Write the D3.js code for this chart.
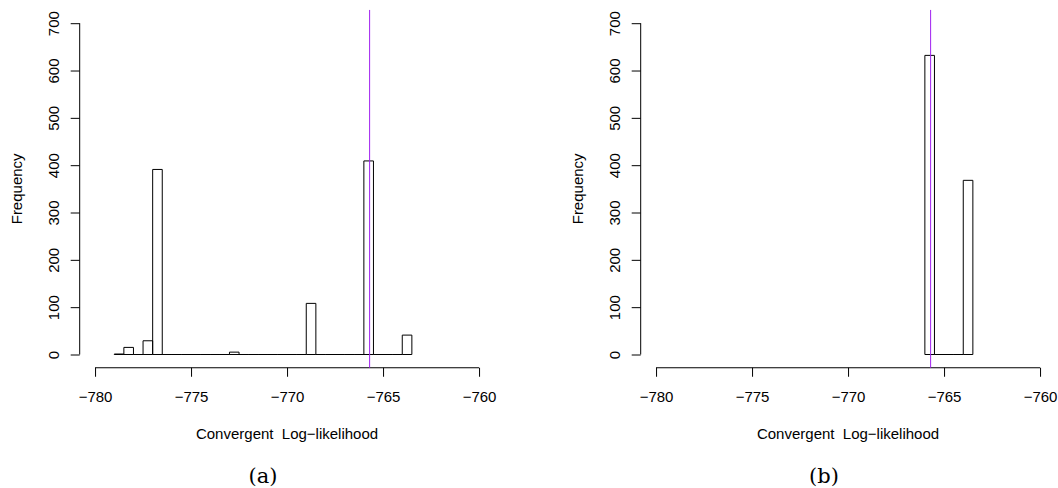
<!DOCTYPE html>
<html>
<head>
<meta charset="utf-8">
<script src="https://cdn.jsdelivr.net/npm/d3@7"></script>
<style>
  html, body { margin: 0; padding: 0; background: #fff; }
  svg { display: block; }
  text { font-family: "Liberation Sans", Arial, Helvetica, sans-serif; fill: #000; white-space: pre; }
</style>
</head>
<body>
<svg id="chart" width="1058" height="488"></svg>
<script>
// ---------- data ----------
const binWidth = 0.5;
// panel (a): histogram bin starts and counts
const binStartsA = [-779, -778.5, -778, -777.5, -777, -776.5, -776, -775.5, -775, -774.5,
                    -774, -773.5, -773, -772.5, -772, -771.5, -771, -770.5, -770, -769.5,
                    -769, -768.5, -768, -767.5, -767, -766.5, -766, -765.5, -765, -764.5, -764];
const countsA    = [1, 15, 0, 29, 391, 0, 0, 0, 0, 0,
                    0, 0, 5, 0, 0, 0, 0, 0, 0, 0,
                    108, 0, 0, 0, 0, 0, 409, 0, 0, 0, 41];
// panel (b)
const binStartsB = [-766, -765.5, -765, -764.5, -764];
const countsB    = [632, 0, 0, 0, 368];
// reference (vertical) line value
const refLineA = -765.7;
const refLineB = -765.7;
// axes
const xTicks = [-780, -775, -770, -765, -760];
const yTicks = [0, 100, 200, 300, 400, 500, 600, 700];
const xLabel = "Convergent  Log\u2212likelihood";
const yLabel = "Frequency";
const captions = ["(a)", "(b)"];

// ---------- drawing ----------
const svg = d3.select("#chart");
const fmt = d => d3.format("")(d); // uses U+2212 minus

function panel(offsetX, starts, counts, refVal, caption) {
  const g = svg.append("g");
  const xDom = [-780.8, -759.2];
  const x = d3.scaleLinear().domain(xDom).range([offsetX + 79.7, offsetX + 79.7 + 21.6 * 19.2]);
  const y = d3.scaleLinear().domain([0, 700]).range([354.5, 23.2]);
  const plotBottom = y(-28), plotTop = y(728);

  // bars (as paths so zero-count bins still draw their baseline)
  g.selectAll("path.bar").data(starts.map((s, i) => ({s, c: counts[i]})))
    .enter().append("path")
    .attr("class", "bar")
    .attr("d", d => {
      const x0 = x(d.s), x1 = x(d.s + binWidth), y0 = y(0), y1 = y(d.c);
      return `M${x0},${y0}V${y1}H${x1}V${y0}Z`;
    })
    .attr("fill", "none")
    .attr("stroke", "#000")
    .attr("stroke-width", 1);

  // x axis
  const xa = g.append("g").attr("transform", `translate(0,${plotBottom})`)
    .call(d3.axisBottom(x).tickValues(xTicks).tickSize(9).tickFormat(fmt).tickSizeOuter(0));
  xa.select(".domain").remove();
  xa.append("line").attr("x1", x(xTicks[0])).attr("x2", x(xTicks[xTicks.length - 1]))
    .attr("y1", 0).attr("y2", 0).attr("stroke", "#000");
  xa.selectAll(".tick line").attr("stroke", "#000");
  xa.selectAll(".tick text").attr("dy", null).attr("y", 402 - plotBottom)
    .style("font-size", "15px").style("font-family", "Liberation Sans, Arial, sans-serif").attr("fill", "#000");

  // y axis
  const ya = g.append("g").attr("transform", `translate(${offsetX + 79.7},0)`)
    .call(d3.axisLeft(y).tickValues(yTicks).tickSize(9).tickSizeOuter(0));
  ya.select(".domain").remove();
  ya.append("line").attr("x1", 0).attr("x2", 0).attr("y1", y(0)).attr("y2", y(700)).attr("stroke", "#000");
  ya.selectAll(".tick line").attr("stroke", "#000");
  ya.selectAll(".tick text")
    .attr("x", null).attr("dy", null)
    .attr("text-anchor", "middle")
    .attr("transform", `translate(${58.6 - 79.7},0) rotate(-90)`)
    .style("font-size", "15px").style("font-family", "Liberation Sans, Arial, sans-serif").attr("fill", "#000");

  // reference line
  g.append("line").attr("x1", x(refVal)).attr("x2", x(refVal))
    .attr("y1", plotTop).attr("y2", plotBottom)
    .attr("stroke", "#A020F0").attr("stroke-width", 1);

  // axis titles
  const cx = (x.range()[0] + x.range()[1]) / 2;
  g.append("text").attr("x", cx).attr("y", 439).attr("text-anchor", "middle")
    .attr("xml:space", "preserve")
    .style("font-size", "15px").text(xLabel);
  g.append("text").attr("transform", `translate(${offsetX + 21.8},${(plotTop + plotBottom) / 2}) rotate(-90)`)
    .attr("text-anchor", "middle").style("font-size", "15px").text(yLabel);

  // caption
  g.append("text").attr("x", offsetX + 263).attr("y", 483).attr("text-anchor", "middle")
    .style("font-family", "'DejaVu Serif', serif").style("font-size", "21px").text(caption);
}

panel(0, binStartsA, countsA, refLineA, captions[0]);
panel(561, binStartsB, countsB, refLineB, captions[1]);
</script>
</body>
</html>
